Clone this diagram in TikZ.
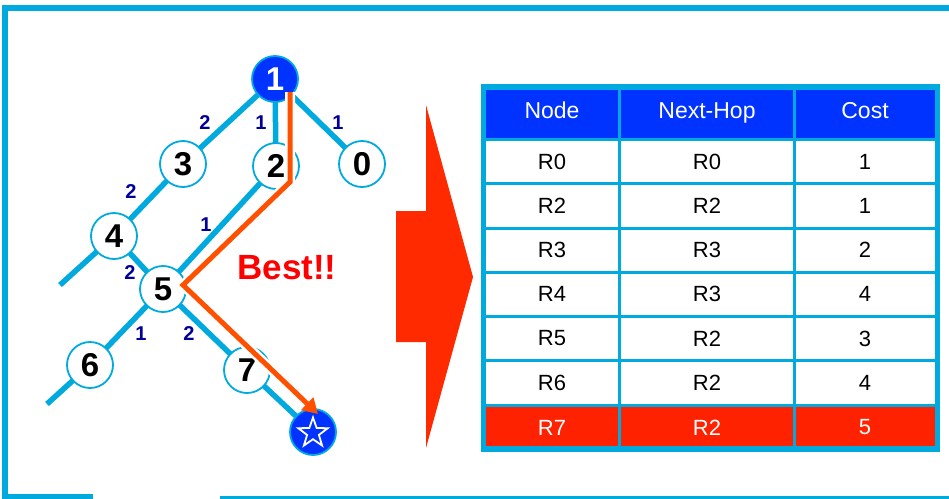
\documentclass[tikz,border=0pt]{standalone}
\usepackage{fontspec}
\setmainfont{Liberation Sans}
\usetikzlibrary{arrows.meta,shapes.geometric}
\definecolor{cyanl}{HTML}{00A9DE}
\definecolor{blueh}{HTML}{0033FF}
\definecolor{orangep}{HTML}{FF5000}
\definecolor{redarrow}{HTML}{FF2A00}
\definecolor{redrow}{HTML}{FF2200}
\definecolor{navy}{HTML}{000099}
\definecolor{bestred}{HTML}{FF0000}
\tikzset{
  link/.style={draw=cyanl, line width=5.5pt},
  router/.style={circle, draw=cyanl, line width=1.8pt, fill=white, minimum size=46pt, inner sep=0pt,
     font=\fontsize{33}{33}\selectfont\bfseries},
  rootrouter/.style={router, fill=blueh, text=white},
  weight/.style={text=navy, inner sep=0pt, font=\fontsize{20}{20}\selectfont\bfseries},
  cell/.style={inner sep=0pt, font=\fontsize{22}{22}\selectfont},
  headcell/.style={cell, text=white, anchor=base, font=\fontsize{23}{23}\selectfont},
  grid/.style={draw=cyanl, line width=3pt},
}
\begin{document}
\begin{tikzpicture}[x=1pt,y=-1pt]
\useasboundingbox (0,0) rectangle (949,498);
% outer frame
\draw[draw=cyanl, line width=5.5pt] (949,8) -- (5,8) -- (5,497) -- (93,497);
\draw[draw=cyanl, line width=2.5pt] (220,497.5) -- (949,497.5);

% coordinates
\coordinate (e4) at (60,285);
\coordinate (e6) at (47,404);
\coordinate (o1) at (290,92);
\coordinate (o2) at (290,182);
\coordinate (o3) at (183,285);
\coordinate (o4) at (318,414);

% router positions
\path (275,79) coordinate (p1);
\path (362,164) coordinate (p0);
\path (276,166) coordinate (p2);
\path (183,164) coordinate (p3);
\path (114,236) coordinate (p4);
\path (163,289) coordinate (p5);
\path (90,365) coordinate (p6);
\path (247,370) coordinate (p7);
\path (313,432) coordinate (ps);

% links
\draw[link] (p1) -- (p3);
\draw[link] (p1) -- (p2);
\draw[link] (p1) -- (p0);
\draw[link] (p3) -- (p4) -- (e4);
\draw[link] (p4) -- (p5);
\draw[link] (p2) -- (p5);
\draw[link] (p5) -- (p6) -- (e6);
\draw[link] (p5) -- (p7);
\draw[link] (p7) -- (ps);

% routers
\node[rootrouter] (n1) at (p1) {1};
\node[router] (n0) at (p0) {0};
\node[router] (n2) at (p2) {2};
\node[router] (n3) at (p3) {3};
\node[router] (n4) at (p4) {4};
\node[router] (n5) at (p5) {5};
\node[router] (n6) at (p6) {6};
\node[router] (n7) at (p7) {7};
\node[rootrouter] (ns) at (ps) {};
\node[star, star points=5, star point ratio=2.5, minimum size=31pt, inner sep=0pt,
      draw=white, line width=1.8pt, fill=blueh] (nstar) at (313,433) {};

% weights
\node[weight] (w13) at (205,123) {2};
\node[weight] (w12) at (261,123) {1};
\node[weight] (w10) at (338,123) {1};
\node[weight] (w34) at (131,192) {2};
\node[weight] (w25) at (206,225) {1};
\node[weight] (w45) at (130,273) {2};
\node[weight] (w56) at (141,334) {1};
\node[weight] (w57) at (189,334) {2};

% best path
\draw[white, line width=10pt, line join=miter, shorten >=16pt] (o1) -- (o2) -- (o3) -- (o4);
\draw[orangep, line width=5pt, line join=miter, -{Triangle[length=15pt,width=17pt]}] (o1) -- (o2) -- (o3) -- (o4);

\node[text=bestred, inner sep=0pt, font=\fontsize{35}{35}\selectfont\bfseries] (best) at (287,268) {Best!!};

% big arrow
\fill[redarrow] (396,211) -- (426,211) -- (426,105) -- (473,277) -- (426,448) -- (426,342) -- (396,342) -- cycle;

% table fills
\fill[blueh] (483.5,87) rectangle (937.5,139.5);
\fill[redrow] (483.5,405) rectangle (937.5,449);
% grid
\foreach \yy in {139.5,183.5,228,272,316,360.5,405}{
  \draw[grid] (483.5,\yy) -- (937.5,\yy);
}
\draw[grid] (619.5,87) -- (619.5,449);
\draw[grid] (794,87) -- (794,449);
\draw[draw=cyanl, line width=5.5pt] (483.5,87) rectangle (937.5,449);

% table text
\node[headcell] (h1) at (552,118) {Node};
\node[headcell] (h2) at (707,118) {Next-Hop};
\node[headcell] (h3) at (865,118) {Cost};

\node[cell] (a1) at (552,162) {R0};
\node[cell] (b1) at (707,162) {R0};
\node[cell] (c1) at (865,162) {1};
\node[cell] (a2) at (552,206) {R2};
\node[cell] (b2) at (707,206) {R2};
\node[cell] (c2) at (865,206) {1};
\node[cell] (a3) at (552,250) {R3};
\node[cell] (b3) at (707,250) {R3};
\node[cell] (c3) at (865,250) {2};
\node[cell] (a4) at (552,294) {R4};
\node[cell] (b4) at (707,294) {R3};
\node[cell] (c4) at (865,294) {4};
\node[cell] (a5) at (552,338.5) {R5};
\node[cell] (b5) at (707,338.5) {R2};
\node[cell] (c5) at (865,338.5) {3};
\node[cell] (a6) at (552,383) {R6};
\node[cell] (b6) at (707,383) {R2};
\node[cell] (c6) at (865,383) {4};
\node[cell, text=white] (a7) at (552,427.5) {R7};
\node[cell, text=white] (b7) at (707,427.5) {R2};
\node[cell, text=white] (c7) at (865,427.5) {5};
\end{tikzpicture}
\end{document}
